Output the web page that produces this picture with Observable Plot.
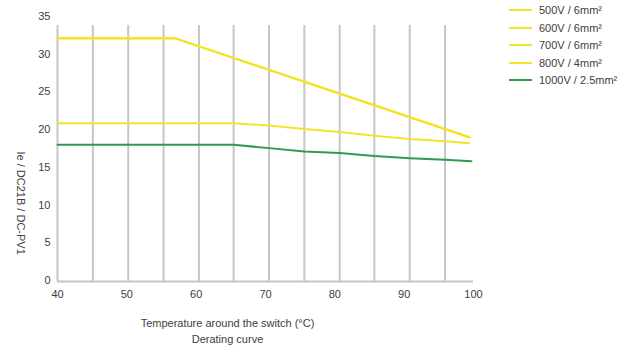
<!DOCTYPE html>
<html>
<head>
<meta charset="utf-8">
<script src="https://cdn.jsdelivr.net/npm/d3@7"></script>
<script src="https://cdn.jsdelivr.net/npm/@observablehq/plot@0.6"></script>
<style>
  html, body { margin: 0; padding: 0; background: #fff; }
  #wrap { position: relative; width: 627px; height: 345px; font-family: "Liberation Sans", Arial, sans-serif; color: #404040; }
  #legend { position: absolute; left: 508px; top: 10px; font-size: 11px; }
  .row { position: absolute; left: 0; height: 18px; width: 115px; }
  .sw { position: absolute; left: 1px; width: 23px; height: 2px; }
  .lb { position: absolute; left: 31px; white-space: nowrap; line-height: 18px; top: -9px; }
  #caption { position: absolute; left: 0; top: 315px; width: 455px; text-align: center; font-size: 11px; line-height: 16px; }
</style>
</head>
<body>
<div id="wrap">
  <div id="chart"></div>
  <div id="legend"></div>
  <div id="caption"><div>Temperature around the switch (°C)</div><div>Derating curve</div></div>
</div>
<script>
// Series (legend order) and colours
const seriesNames = ["500V / 6mm²", "600V / 6mm²", "700V / 6mm²", "800V / 4mm²", "1000V / 2.5mm²"];
const seriesColors = ["#f3e42a", "#f3e42a", "#f3e42a", "#f3e42a", "#2e9b4f"];
// which curve each series follows
const seriesCurve = ["6mm", "6mm", "6mm", "4mm", "2.5mm"];

// Curves: temperature (°C) and current (A)
const temps6mm = [40, 57, 99.4];
const amps6mm = [32.1, 32.1, 19.0];
const temps4mm = [40, 65.4, 70.5, 75.6, 80.7, 85.7, 90.8, 95.9, 99.4];
const amps4mm = [20.85, 20.85, 20.55, 20.1, 19.7, 19.2, 18.75, 18.45, 18.2];
const temps25mm = [40, 65.4, 70.5, 75.6, 80.7, 85.7, 90.8, 95.9, 99.7];
const amps25mm = [18.0, 18.0, 17.55, 17.1, 16.9, 16.5, 16.2, 16.0, 15.8];

// Axes
const xTicks = [40, 50, 60, 70, 80, 90, 100];
const yTicks = [0, 5, 10, 15, 20, 25, 30, 35];
const gridTemps = [40, 45.1, 50.2, 55.3, 60.4, 65.4, 70.5, 75.6, 80.7, 85.7, 90.8, 95.9];
const yLabel = "Ie / DC21B / DC-PV1";

const curves = {
  "6mm": {t: temps6mm, a: amps6mm},
  "4mm": {t: temps4mm, a: amps4mm},
  "2.5mm": {t: temps25mm, a: amps25mm}
};
const rows = [];
seriesNames.forEach((s, i) => {
  const c = curves[seriesCurve[i]];
  c.t.forEach((t, j) => rows.push({series: s, temp: t, amp: c.a[j]}));
});

const chart = Plot.plot({
  width: 627,
  height: 300,
  marginLeft: 57,
  marginRight: 154,
  marginTop: 16,
  marginBottom: 20,
  style: {fontFamily: "'Liberation Sans', Arial, sans-serif", fontSize: "11px", color: "#404040", background: "#fff"},
  x: {domain: [40, 100], ticks: xTicks, tickSize: 0, tickPadding: 10, label: null},
  y: {domain: [0, 35], ticks: yTicks, tickSize: 0, tickPadding: 7, label: null},
  color: {domain: seriesNames, range: seriesColors},
  marks: [
    Plot.ruleX(gridTemps, {x: d => d, stroke: "#c6c6c6", strokeWidth: 2, insetTop: 9, insetBottom: -1}),
    Plot.ruleY([0], {stroke: "#c6c6c6", strokeWidth: 2, dy: 1}),
    Plot.line(rows, {x: "temp", y: "amp", z: "series", stroke: "series", strokeWidth: 2}),
    Plot.text([yLabel], {text: d => d, frameAnchor: "left", rotate: 90, dx: -37, dy: 3, fontSize: 11, fill: "#404040"})
  ]
});
document.getElementById("chart").appendChild(chart);

// Legend
const legend = document.getElementById("legend");
seriesNames.forEach((s, i) => {
  const row = document.createElement("div");
  row.className = "row";
  row.style.top = (i * 17.6) + "px";
  const sw = document.createElement("div");
  sw.className = "sw";
  sw.style.background = seriesColors[i];
  sw.style.top = "-1px";
  const lb = document.createElement("div");
  lb.className = "lb";
  lb.textContent = s;
  row.appendChild(sw);
  row.appendChild(lb);
  legend.appendChild(row);
});
</script>
</body>
</html>
